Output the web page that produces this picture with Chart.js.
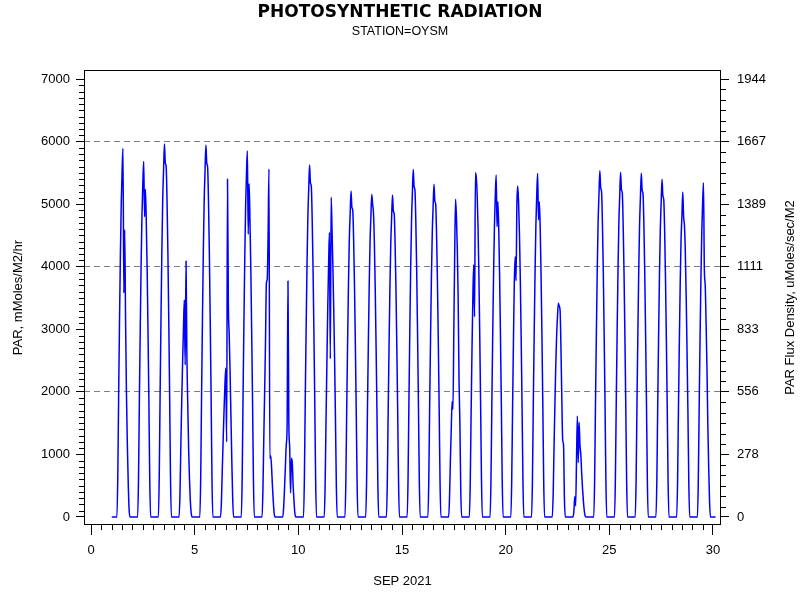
<!DOCTYPE html>
<html>
<head>
<meta charset="utf-8">
<script src="https://cdn.jsdelivr.net/npm/chart.js@4.4.1/dist/chart.umd.min.js"></script>
<style>
  html, body { margin: 0; padding: 0; background: #fff; }
</style>
</head>
<body>
<canvas id="chart" width="800" height="600"></canvas>
<script>
/* global Chart */

// x axis: day of SEP 2021
const xTicks = [0, 5, 10, 15, 20, 25, 30];
// left axis: PAR, mMoles/M2/hr
const parTicks = [0, 1000, 2000, 3000, 4000, 5000, 6000, 7000];
const parGridLines = [2000, 4000, 6000];
// right axis: PAR flux density, uMoles/sec/M2 (= PAR / 3.6)
const fluxTickLabels = ['0', '278', '556', '833', '1111', '1389', '1667', '1944'];
const FLUX_FACTOR = 3.6;

// hourly readings, night hours are 0
const dayHours = [7, 8, 9, 10, 11, 12, 13, 14, 15, 16, 17, 18, 19, 20];
const parDaylight = [
  [650, 1950, 3120, 4180, 5000, 5540, 5890, 3580, 4590, 3150, 2000, 1200, 600, 150],   // 1
  [620, 1880, 3010, 4030, 4830, 5340, 5680, 4800, 5240, 4700, 3950, 2950, 1850, 600],  // 2
  [660, 1970, 3160, 4230, 5070, 5540, 5960, 5660, 5600, 5070, 4230, 3160, 1970, 660],  // 3
  [380, 1150, 1840, 2460, 3000, 3470, 2430, 4090, 2560, 1800, 1100, 600, 250, 60],     // 4
  [650, 1960, 3150, 4220, 5050, 5530, 5945, 5650, 5590, 5050, 4220, 3150, 1960, 650],  // 5
  [260, 780, 1250, 1700, 2100, 2380, 1200, 5400, 3400, 2900, 2300, 1600, 900, 300],    // 6
  [640, 1930, 3100, 4150, 4970, 5500, 5850, 4520, 5330, 4750, 3950, 2950, 1850, 620],  // 7
  [420, 1250, 2000, 2800, 3735, 3800, 4500, 5560, 940, 980, 800, 500, 250, 60],        // 8
  [150, 450, 800, 1150, 1450, 3770, 1500, 1100, 383, 940, 860, 500, 250, 60],          // 9
  [620, 1860, 2980, 3990, 4780, 5230, 5625, 5340, 5290, 4780, 3990, 2980, 1860, 620],  // 10
  [500, 1500, 2400, 3300, 4000, 4550, 2530, 5110, 4600, 4000, 3300, 2500, 1550, 500],  // 11
  [570, 1720, 2760, 3700, 4430, 4850, 5210, 4950, 4900, 4430, 3700, 2760, 1720, 570],  // 12
  [570, 1700, 2730, 3660, 4390, 4800, 5160, 5000, 4850, 4390, 3660, 2730, 1700, 570],  // 13
  [570, 1700, 2730, 3650, 4370, 4790, 5145, 4890, 4840, 4370, 3650, 2730, 1700, 570],  // 14
  [610, 1830, 2940, 3940, 4720, 5170, 5555, 5280, 5220, 4720, 3940, 2940, 1830, 610],  // 15
  [590, 1760, 2820, 3780, 4520, 4950, 5320, 5050, 5000, 4520, 3780, 2820, 1760, 590],  // 16
  [300, 900, 1400, 1843, 1725, 3000, 4200, 5080, 4800, 4300, 3500, 2200, 1500, 450],   // 17
  [550, 1650, 2650, 3500, 4030, 3200, 5500, 5420, 5150, 4650, 3880, 2900, 1800, 600],  // 18
  [600, 1800, 2900, 3880, 4650, 5140, 5465, 4640, 5040, 4600, 3850, 2880, 1800, 600],  // 19
  [580, 1740, 2800, 3750, 4160, 3777, 5000, 5290, 5000, 4500, 3760, 2800, 1740, 580],  // 20
  [600, 1810, 2910, 3900, 4670, 5160, 5493, 4747, 5040, 4600, 3850, 2880, 1800, 600],  // 21
  [370, 1120, 1800, 2420, 2900, 3210, 3415, 3372, 3300, 2700, 1900, 1230, 1150, 300],  // 22
  [100, 325, 180, 900, 1615, 868, 1513, 1150, 1000, 700, 450, 250, 100, 20],           // 23
  [610, 1830, 2930, 3930, 4700, 5150, 5535, 5260, 5200, 4700, 3930, 2930, 1830, 610],  // 24
  [610, 1820, 2920, 3910, 4680, 5120, 5510, 5230, 5180, 4680, 3910, 2920, 1820, 610],  // 25
  [600, 1810, 2910, 3900, 4670, 5110, 5493, 5220, 5160, 4670, 3900, 2910, 1810, 600],  // 26
  [590, 1780, 2860, 3830, 4590, 5020, 5397, 5130, 5070, 4590, 3830, 2860, 1780, 590],  // 27
  [570, 1710, 2750, 3690, 4420, 4800, 5195, 4800, 4650, 4200, 3500, 2600, 1650, 550],  // 28
  [590, 1760, 2830, 3790, 4540, 5020, 5343, 3950, 3700, 3100, 2400, 1500, 800, 250]    // 29
];
const LAST_DAY = 30;
const LAST_HOUR = 3;

const points = [];
parDaylight.forEach((vals, i) => {
  const day = i + 1;
  for (let h = 0; h < 24; h++) {
    const k = dayHours.indexOf(h);
    points.push({ x: day + h / 24, y: k < 0 ? 0 : vals[k] });
  }
});
for (let h = 0; h <= LAST_HOUR; h++) {
  points.push({ x: LAST_DAY + h / 24, y: 0 });
}

const FONT = "'Liberation Sans', Arial, sans-serif";
Chart.defaults.font.family = FONT;
Chart.defaults.font.size = 13;
Chart.defaults.color = '#000';

const Y_MIN = -128;
const Y_MAX = 7144;

// frame, minor ticks and the right-hand axis title
const frame = {
  id: 'frame',
  afterDraw(chart) {
    const { ctx, chartArea: a, scales } = chart;
    ctx.save();
    ctx.strokeStyle = '#000';
    ctx.lineWidth = 1;
    ctx.strokeRect(a.left + 0.5, a.top + 0.5, a.right - a.left - 1, a.bottom - a.top - 1);

    ctx.beginPath();
    for (let v = 0.5; v < 30; v += 0.5) {
      if (v % 5 === 0) continue;
      const x = Math.round(scales.x.getPixelForValue(v)) + 0.5;
      ctx.moveTo(x, a.bottom);
      ctx.lineTo(x, a.bottom + 5);
    }
    for (let v = 100; v < 7000; v += 100) {
      if (v % 1000 === 0) continue;
      const y = Math.round(scales.y.getPixelForValue(v)) + 0.5;
      ctx.moveTo(a.left - 5, y);
      ctx.lineTo(a.left, y);
    }
    const fluxStep = 1000 / FLUX_FACTOR / 6;
    for (let i = 1; i < 42; i++) {
      if (i % 6 === 0) continue;
      const y = Math.round(scales.y2.getPixelForValue(i * fluxStep)) + 0.5;
      ctx.moveTo(a.right, y);
      ctx.lineTo(a.right + 5, y);
    }
    ctx.stroke();

    ctx.translate(790, (a.top + a.bottom) / 2);
    ctx.rotate(-Math.PI / 2);
    ctx.font = '13px ' + FONT;
    ctx.fillStyle = '#000';
    ctx.textAlign = 'center';
    ctx.textBaseline = 'middle';
    ctx.fillText('PAR Flux Density, uMoles/sec/M2', 0, 0);
    ctx.restore();
  }
};

new Chart(document.getElementById('chart').getContext('2d'), {
  type: 'line',
  data: {
    datasets: [{
      label: 'PAR',
      data: points,
      borderColor: '#0000ff',
      borderWidth: 1.5,
      borderJoinStyle: 'round',
      cubicInterpolationMode: 'monotone',
      pointRadius: 0,
      fill: false
    }]
  },
  options: {
    responsive: false,
    animation: false,
    layout: { padding: 0 },
    plugins: {
      legend: { display: false },
      tooltip: { enabled: false },
      title: {
        display: true,
        text: 'PHOTOSYNTHETIC RADIATION',
        font: { family: "'DejaVu Sans', sans-serif", size: 17, weight: 'bold' },
        color: '#000',
        padding: { top: 2, bottom: 0 }
      },
      subtitle: {
        display: true,
        text: 'STATION=OYSM',
        font: { size: 12.5 },
        color: '#000',
        padding: { top: 2, bottom: 30.6 }
      }
    },
    scales: {
      x: {
        type: 'linear',
        min: -0.338,
        max: 30.386,
        afterBuildTicks: s => { s.ticks = xTicks.map(v => ({ value: v })); },
        afterFit: s => { s.height = 75; },
        ticks: { padding: 8, maxRotation: 0 },
        grid: { color: 'rgba(0,0,0,0)', tickColor: '#000', tickLength: 10, drawOnChartArea: false },
        border: { display: false },
        title: { display: true, text: 'SEP 2021', padding: { top: 0, bottom: 10.5 } }
      },
      y: {
        type: 'linear',
        position: 'left',
        min: Y_MIN,
        max: Y_MAX,
        afterBuildTicks: s => { s.ticks = parTicks.map(v => ({ value: v })); },
        afterFit: s => { s.width = 84; },
        ticks: { padding: 6, callback: v => String(v) },
        grid: {
          color: c => parGridLines.includes(c.tick && c.tick.value) ? '#808080' : 'rgba(0,0,0,0)',
          tickColor: '#000',
          tickLength: 8
        },
        border: { display: false, dash: [6, 4] },
        title: { display: true, text: 'PAR, mMoles/M2/hr', padding: { top: 11, bottom: 0 } }
      },
      y2: {
        type: 'linear',
        position: 'right',
        min: Y_MIN / FLUX_FACTOR,
        max: Y_MAX / FLUX_FACTOR,
        afterBuildTicks: s => { s.ticks = parTicks.map(v => ({ value: v / FLUX_FACTOR })); },
        afterFit: s => { s.width = 79; },
        ticks: { padding: 8, callback: (v, i) => fluxTickLabels[i] },
        grid: { drawOnChartArea: false, tickColor: '#000', tickLength: 8 },
        border: { display: false }
      }
    }
  },
  plugins: [frame]
});
</script>
</body>
</html>
